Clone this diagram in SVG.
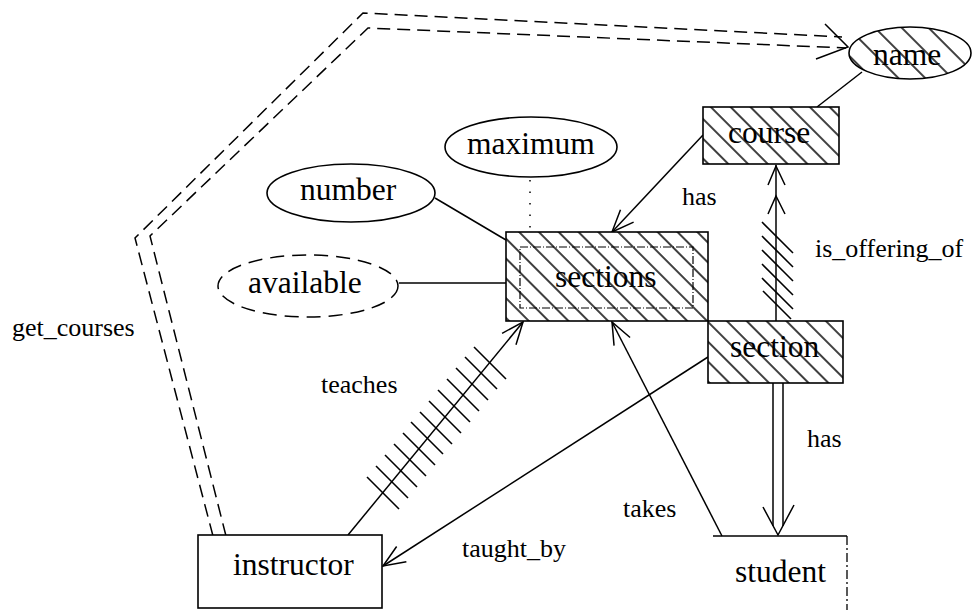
<svg xmlns="http://www.w3.org/2000/svg" width="974" height="610" viewBox="0 0 974 610">
  <defs>
    <!-- diagonal "\" hatching for weak/hatched nodes -->
    <pattern id="hatch" patternUnits="userSpaceOnUse" width="14" height="14" patternTransform="rotate(45)">
      <line x1="0" y1="7" x2="14" y2="7" stroke="#000" stroke-width="1.5"/>
    </pattern>
    <pattern id="hatchWide" patternUnits="userSpaceOnUse" width="19" height="19" patternTransform="rotate(45)">
      <line x1="0" y1="9" x2="19" y2="9" stroke="#000" stroke-width="1.5"/>
    </pattern>
    <!-- open V arrowhead -->
    <marker id="arr" viewBox="-26 -12 28 24" markerWidth="28" markerHeight="24" refX="0" refY="0" orient="auto" markerUnits="userSpaceOnUse" overflow="visible">
      <path d="M-22,-9 L0,0 L-22,9" fill="none" stroke="#000" stroke-width="1.5"/>
    </marker>
    <style>
      .edge { fill: none; stroke: #000; stroke-width: 1.5; }
      .box { fill: #fff; stroke: #000; stroke-width: 1.6; }
      .hatched { fill: url(#hatch); stroke: #000; stroke-width: 1.6; }
      .tick { stroke: #000; stroke-width: 1.6; }
      .dash2 { fill: none; stroke: #000; stroke-width: 1.5; stroke-dasharray: 13 7; }
      .node-label { font-family: "Liberation Serif", "Times New Roman", serif; font-size: 31.5px; fill: #000; }
      .edge-label { font-family: "Liberation Serif", "Times New Roman", serif; font-size: 26px; fill: #000; }
    </style>
  </defs>

  <rect width="974" height="610" fill="#fff"/>

  <!-- connectors -->
  <g id="connectors">
    <!-- get_courses: double dashed path from instructor to name -->
    <polyline class="dash2" points="213,536 135,238 363,13 842,37"/>
    <polyline class="dash2" points="226,536 150,236 368,28 846,48"/>
    <path class="edge" d="M825,24 L848,47 L816,59"/>

    <!-- name - course -->
    <line class="edge" x1="862" y1="72" x2="817" y2="107"/>

    <!-- number - sections -->
    <line class="edge" x1="435" y1="198" x2="506" y2="240"/>
    <!-- available - sections -->
    <line class="edge" x1="399" y1="283" x2="506" y2="283"/>
    <!-- maximum - sections (dotted) -->
    <line class="edge" x1="530" y1="180" x2="530" y2="230" stroke-dasharray="1.5 10"/>

    <!-- has: course -> sections -->
    <line class="edge" x1="703" y1="135" x2="612" y2="232" marker-end="url(#arr)"/>

    <!-- is_offering_of: section -> course, double head with ticks -->
    <line class="edge" x1="776" y1="321" x2="776" y2="165"/>
    <path class="edge" d="M768,185 L776,166 L785,185"/>
    <path class="edge" d="M768,214 L776,196 L785,214"/>
    <g class="tick">
      <line x1="762" y1="222" x2="793" y2="253"/>
      <line x1="762" y1="236" x2="793" y2="267"/>
      <line x1="762" y1="250" x2="793" y2="281"/>
      <line x1="762" y1="264" x2="793" y2="295"/>
      <line x1="762" y1="278" x2="793" y2="309"/>
      <line x1="763" y1="291" x2="791" y2="319"/>
    </g>

    <!-- has: section -> student (double line) -->
    <line class="edge" x1="773" y1="383" x2="773" y2="526"/>
    <line class="edge" x1="783" y1="383" x2="783" y2="526"/>
    <path class="edge" d="M763,507 L778,535 L794,505"/>

    <!-- takes: student -> sections -->
    <line class="edge" x1="722" y1="536" x2="612" y2="322" marker-end="url(#arr)"/>

    <!-- taught_by: section -> instructor -->
    <line class="edge" x1="708" y1="357" x2="383" y2="566" marker-end="url(#arr)"/>

    <!-- teaches: instructor -> sections, many-ticked -->
    <line class="edge" x1="348" y1="535" x2="523" y2="322" marker-end="url(#arr)"/>
    <g class="tick">
      <line x1="367" y1="477" x2="399" y2="509"/>
      <line x1="376" y1="466" x2="408" y2="498"/>
      <line x1="385" y1="455" x2="417" y2="487"/>
      <line x1="394" y1="444" x2="426" y2="476"/>
      <line x1="403" y1="433" x2="435" y2="465"/>
      <line x1="411" y1="422" x2="443" y2="454"/>
      <line x1="420" y1="412" x2="452" y2="444"/>
      <line x1="429" y1="401" x2="461" y2="433"/>
      <line x1="438" y1="390" x2="470" y2="422"/>
      <line x1="447" y1="379" x2="479" y2="411"/>
      <line x1="456" y1="368" x2="488" y2="400"/>
      <line x1="465" y1="357" x2="497" y2="389"/>
      <line x1="474" y1="347" x2="506" y2="379"/>
    </g>
  </g>

  <!-- edge labels -->
  <g id="edge-labels">
    <text class="edge-label" x="12" y="336">get_courses</text>
    <text class="edge-label" x="682" y="205">has</text>
    <text class="edge-label" x="815" y="257">is_offering_of</text>
    <text class="edge-label" x="321" y="393">teaches</text>
    <text class="edge-label" x="807" y="447">has</text>
    <text class="edge-label" x="623" y="517">takes</text>
    <text class="edge-label" x="462" y="557">taught_by</text>
  </g>

  <!-- nodes -->
  <g id="name">
    <ellipse cx="910" cy="53" rx="61" ry="26" fill="#fff"/>
    <ellipse cx="910" cy="53" rx="61" ry="26" fill="url(#hatchWide)" stroke="#000" stroke-width="1.6"/>
    <text class="node-label" x="873" y="65">name</text>
  </g>

  <g id="course">
    <rect x="703" y="107" width="136" height="57" fill="#fff"/>
    <rect class="hatched" x="703" y="107" width="136" height="57"/>
    <text class="node-label" x="728" y="143">course</text>
  </g>

  <g id="maximum">
    <ellipse class="box" cx="531" cy="147" rx="86" ry="30"/>
    <text class="node-label" x="467" y="154">maximum</text>
  </g>

  <g id="number">
    <ellipse class="box" cx="351" cy="193" rx="84" ry="29"/>
    <text class="node-label" x="300" y="200">number</text>
  </g>

  <g id="available">
    <ellipse cx="308" cy="286" rx="90" ry="31" fill="#fff" stroke="#000" stroke-width="1.5" stroke-dasharray="14 8"/>
    <text class="node-label" x="248" y="293">available</text>
  </g>

  <g id="sections">
    <rect x="506" y="232" width="202" height="89" fill="#fff"/>
    <rect class="hatched" x="506" y="232" width="202" height="89"/>
    <rect x="520" y="247" width="173" height="61" fill="none" stroke="#000" stroke-width="1.2" stroke-dasharray="8 2 1 2"/>
    <text class="node-label" x="555" y="287">sections</text>
  </g>

  <g id="section">
    <rect x="708" y="321" width="135" height="62" fill="#fff"/>
    <rect class="hatched" x="708" y="321" width="135" height="62"/>
    <text class="node-label" x="730" y="357">section</text>
  </g>

  <g id="instructor">
    <rect class="box" x="198" y="535" width="184" height="73"/>
    <text class="node-label" x="233" y="575">instructor</text>
  </g>

  <g id="student">
    <line x1="713" y1="536" x2="847" y2="536" stroke="#000" stroke-width="1.6"/>
    <line x1="847" y1="536" x2="847" y2="610" stroke="#000" stroke-width="1.3" stroke-dasharray="9 3 2 3"/>
    <text class="node-label" x="735" y="582">student</text>
  </g>
</svg>
